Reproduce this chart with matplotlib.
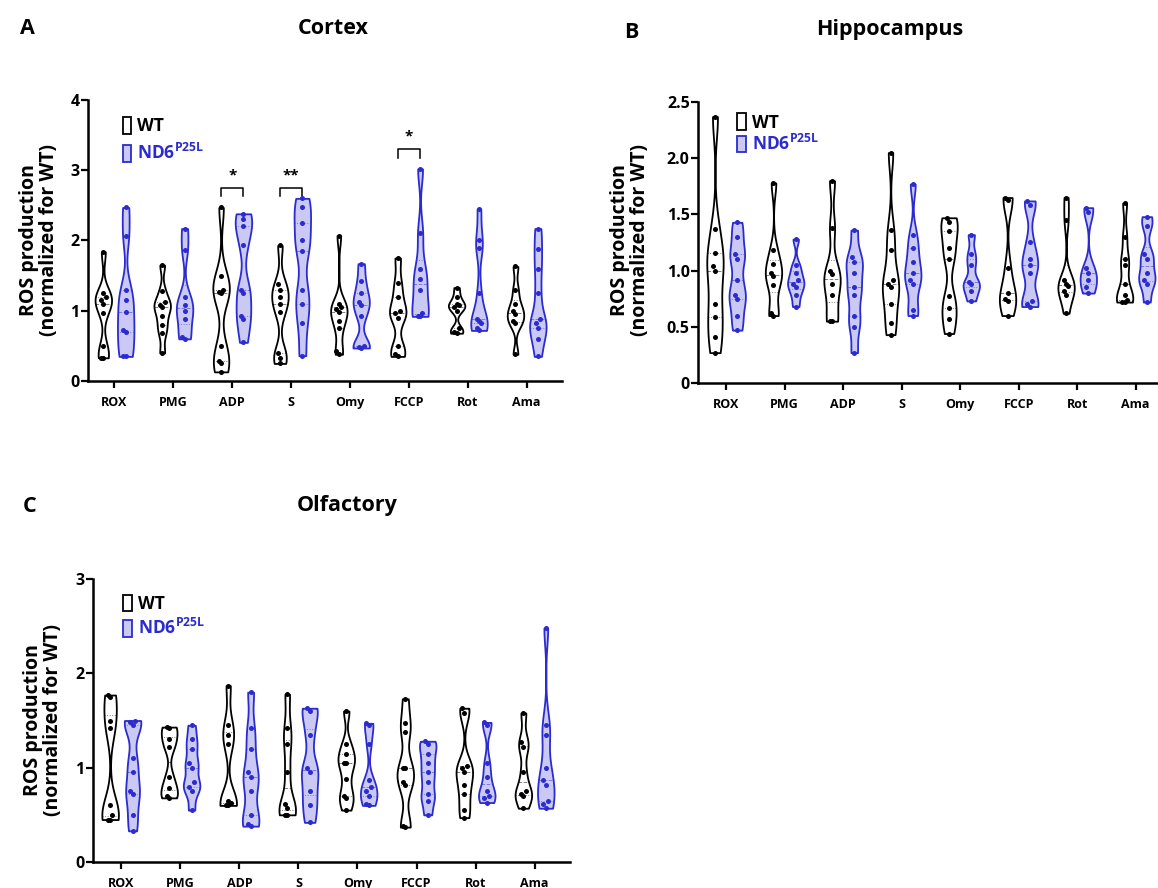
import numpy as np
import matplotlib
matplotlib.use("Agg")
import matplotlib.pyplot as plt
from matplotlib.patches import Patch

plt.rcParams['font.family'] = ['Open Sans', 'DejaVu Sans']
plt.rcParams['mathtext.fontset'] = 'custom'
plt.rcParams['mathtext.bf'] = 'Open Sans:bold'
plt.rcParams['mathtext.rm'] = 'Open Sans'

# ---------- data ----------
categories = ["ROX", "PMG", "ADP", "S", "Omy", "FCCP", "Rot", "Ama"]

cortex_wt = [
    [1.84, 1.25, 1.2, 1.15, 1.1, 0.97, 0.5, 0.33, 0.33],
    [1.65, 1.28, 1.12, 1.08, 1.05, 0.93, 0.8, 0.68, 0.4],
    [2.47, 1.5, 1.3, 1.27, 1.25, 0.5, 0.28, 0.25, 0.13],
    [1.93, 1.38, 1.3, 1.2, 1.1, 0.98, 0.4, 0.33, 0.25],
    [2.07, 1.1, 1.05, 1.02, 0.98, 0.85, 0.75, 0.42, 0.38],
    [1.75, 1.4, 1.2, 1.0, 0.97, 0.9, 0.5, 0.38, 0.35],
    [1.33, 1.2, 1.1, 1.08, 1.05, 1.0, 0.75, 0.7, 0.68],
    [1.63, 1.3, 1.1, 1.0, 0.95, 0.85, 0.82, 0.38],
]
cortex_nd6 = [
    [2.47, 2.07, 1.3, 1.15, 0.98, 0.72, 0.7, 0.36, 0.35],
    [2.17, 1.87, 1.2, 1.08, 1.0, 0.88, 0.62, 0.6],
    [2.38, 2.3, 2.2, 1.93, 1.3, 1.25, 0.93, 0.88, 0.55],
    [2.6, 2.47, 2.25, 2.0, 1.85, 1.3, 1.1, 0.83, 0.36],
    [1.67, 1.42, 1.25, 1.12, 1.08, 0.92, 0.5, 0.48, 0.47],
    [3.02, 2.1, 1.6, 1.45, 1.3, 0.97, 0.93, 0.92],
    [2.45, 2.0, 1.9, 1.25, 0.88, 0.85, 0.82, 0.75, 0.72],
    [2.17, 1.88, 1.6, 1.25, 0.88, 0.82, 0.75, 0.6, 0.35],
]

hippo_wt = [
    [2.37, 1.37, 1.16, 1.04, 1.0, 0.7, 0.59, 0.41, 0.27],
    [1.78, 1.18, 1.06, 0.98, 0.95, 0.87, 0.62, 0.6],
    [1.8, 1.38, 1.0, 0.97, 0.88, 0.78, 0.55, 0.55],
    [2.05, 1.36, 1.18, 0.92, 0.88, 0.85, 0.7, 0.53, 0.43],
    [1.47, 1.43, 1.35, 1.2, 1.1, 0.77, 0.67, 0.57, 0.44],
    [1.65, 1.63, 1.02, 0.8, 0.75, 0.73, 0.6],
    [1.65, 1.45, 0.92, 0.88, 0.86, 0.82, 0.78, 0.62],
    [1.6, 1.3, 1.1, 1.05, 0.88, 0.78, 0.74, 0.72, 0.72],
]
hippo_nd6 = [
    [1.43, 1.3, 1.15, 1.1, 0.92, 0.78, 0.75, 0.6, 0.47],
    [1.28, 1.05, 0.98, 0.92, 0.88, 0.85, 0.78, 0.68],
    [1.36, 1.12, 1.08, 0.98, 0.85, 0.78, 0.6, 0.5, 0.27],
    [1.77, 1.32, 1.2, 1.08, 0.98, 0.92, 0.88, 0.65, 0.6],
    [1.32, 1.15, 1.05, 0.9, 0.88, 0.82, 0.73],
    [1.62, 1.58, 1.25, 1.1, 1.05, 0.98, 0.73, 0.7, 0.68],
    [1.56, 1.52, 1.02, 0.98, 0.92, 0.85, 0.8],
    [1.48, 1.4, 1.15, 1.1, 0.98, 0.92, 0.88, 0.72],
]

olf_wt = [
    [1.77, 1.75, 1.5, 1.42, 0.6, 0.5, 0.45, 0.45],
    [1.43, 1.42, 1.3, 1.22, 0.9, 0.78, 0.7, 0.68],
    [1.87, 1.45, 1.35, 1.25, 0.65, 0.63, 0.6, 0.6],
    [1.78, 1.42, 1.25, 0.95, 0.62, 0.57, 0.5, 0.5],
    [1.6, 1.25, 1.15, 1.05, 1.05, 0.88, 0.7, 0.68, 0.55],
    [1.73, 1.47, 1.38, 1.0, 1.0, 0.85, 0.82, 0.38, 0.37],
    [1.63, 1.58, 1.02, 1.0, 0.95, 0.82, 0.72, 0.55, 0.47],
    [1.58, 1.27, 1.22, 0.95, 0.75, 0.72, 0.7, 0.57],
]
olf_nd6 = [
    [1.5, 1.48, 1.45, 1.1, 0.95, 0.75, 0.72, 0.5, 0.33],
    [1.45, 1.3, 1.2, 1.05, 1.0, 0.85, 0.8, 0.75, 0.55],
    [1.8, 1.42, 1.2, 0.95, 0.9, 0.75, 0.5, 0.4, 0.38],
    [1.63, 1.6, 1.35, 1.0, 0.95, 0.75, 0.6, 0.42],
    [1.47, 1.45, 1.25, 0.87, 0.8, 0.75, 0.7, 0.62, 0.6],
    [1.28, 1.25, 1.15, 1.05, 0.95, 0.85, 0.72, 0.65, 0.5],
    [1.48, 1.45, 1.05, 0.9, 0.75, 0.7, 0.68, 0.63],
    [2.48, 1.45, 1.35, 1.0, 0.87, 0.82, 0.65, 0.62, 0.57],
]

# significance marks for the cortex panel: (category, bracket height, label)
cortex_sig = [("ADP", 2.75, "*"), ("S", 2.75, "**"), ("FCCP", 3.3, "*")]

# ---------- style ----------
WT_EDGE = "black"
WT_FILL = "white"
ND_EDGE = "#2b2bd0"
ND_FILL = "#c9c9f4"
OFF = 0.19
VW = 0.28


def dot_offsets(vals, tol):
    vals = np.asarray(vals)
    order = np.argsort(vals)
    offs = np.zeros(len(vals))
    prev, k = None, 0
    for idx in order:
        if prev is not None and vals[idx] - prev < tol:
            k += 1
        else:
            k = 0
        offs[idx] = [0.0, -0.04, 0.04][k % 3]
        prev = vals[idx]
    return offs


def draw_violins(ax, groups, pos, edge, fill, dot, tol):
    parts = ax.violinplot(groups, positions=pos, widths=VW,
                          showextrema=False, bw_method=0.3)
    for body, vals, p in zip(parts['bodies'], groups, pos):
        body.set_facecolor(fill)
        body.set_edgecolor(edge)
        body.set_linewidth(1.3)
        body.set_alpha(1)
        body.set_zorder(2)
        verts = body.get_paths()[0].vertices
        right = verts[verts[:, 0] >= p]
        srt = np.argsort(right[:, 1])
        ys, xs = right[srt, 1], right[srt, 0] - p
        for q, ls in [(25, ':'), (50, '--'), (75, ':')]:
            yq = np.percentile(vals, q)
            hw = np.interp(yq, ys, xs)
            ax.plot([p - hw, p + hw], [yq, yq], ls=ls, color=edge,
                    lw=0.7, alpha=0.5, zorder=3)
        ax.scatter(p + dot_offsets(vals, tol), vals, s=13, color=dot,
                   zorder=4, linewidths=0)


def panel(fig, rect, wt, nd, ylim, yticks, yticklabels, xlim,
          leg_anchor, leg_space):
    ax = fig.add_axes(rect)
    x = np.arange(len(categories))
    tol = (ylim[1] - ylim[0]) * 0.02
    draw_violins(ax, wt, x - OFF, WT_EDGE, WT_FILL, "black", tol)
    draw_violins(ax, nd, x + OFF, ND_EDGE, ND_FILL, ND_EDGE, tol)
    ax.set_xlim(*xlim)
    ax.set_ylim(*ylim)
    ax.set_yticks(yticks)
    ax.set_yticklabels(yticklabels)
    ax.set_xticks(x)
    ax.set_xticklabels(categories)
    for s in ['top', 'right']:
        ax.spines[s].set_visible(False)
    for s in ['left', 'bottom']:
        ax.spines[s].set_linewidth(1.8)
    ax.tick_params(axis='y', width=1.6, length=5, labelsize=11.5, pad=1)
    ax.tick_params(axis='x', width=1.6, length=5, labelsize=9, pad=6)
    for t in ax.get_xticklabels() + ax.get_yticklabels():
        t.set_fontweight('bold')
    handles = [Patch(facecolor='white', edgecolor=WT_EDGE, lw=1.3),
               Patch(facecolor=ND_FILL, edgecolor=ND_EDGE, lw=1.3)]
    leg = ax.legend(handles, ["WT", "ND6$^{\\mathbf{P25L}}$"],
                    loc='upper left', bbox_to_anchor=leg_anchor,
                    frameon=False, handlelength=0.5, handleheight=1.1,
                    handletextpad=0.35, labelspacing=leg_space,
                    prop={'weight': 'bold', 'size': 12.5})
    for t, c in zip(leg.get_texts(), ["black", ND_EDGE]):
        t.set_color(c)
    return ax


fig = plt.figure(figsize=(11.58, 8.88), dpi=100)

W, H = 1158.0, 888.0


def rect(l, r, top, bot):
    return [l / W, 1 - bot / H, (r - l) / W, (bot - top) / H]


axA = panel(fig, rect(88, 562, 100, 381), cortex_wt, cortex_nd6, (0, 4),
            [0, 1, 2, 3, 4], ["0", "1", "2", "3", "4"], (-0.45, 7.6),
            (0.04, 0.995), 0.45)
axB = panel(fig, rect(698, 1172, 102, 383), hippo_wt, hippo_nd6, (0, 2.5),
            [0, 0.5, 1.0, 1.5, 2.0, 2.5],
            ["0", "0.5", "1.0", "1.5", "2.0", "2.5"], (-0.48, 7.62),
            (0.05, 1.015), 0.12)
axC = panel(fig, rect(93, 570, 579, 862), olf_wt, olf_nd6, (0, 3),
            [0, 1, 2, 3], ["0", "1", "2", "3"], (-0.48, 7.6),
            (0.03, 1.0), 0.3)

# significance brackets
for cat, yb, lab in cortex_sig:
    i = categories.index(cat)
    x1, x2 = i - OFF, i + OFF
    axA.plot([x1, x1, x2, x2], [yb - 0.12, yb, yb, yb - 0.12],
             color='black', lw=1.1)
    axA.text(i, yb + 0.08, lab, ha='center', va='bottom', fontsize=11,
             fontweight='bold')

# titles and panel letters
fig.text(333 / W, 1 - 28 / H, "Cortex", ha='center', va='center',
         fontsize=15.5, fontweight='bold')
fig.text(890 / W, 1 - 30 / H, "Hippocampus", ha='center', va='center',
         fontsize=15.5, fontweight='bold')
fig.text(347 / W, 1 - 505 / H, "Olfactory", ha='center', va='center',
         fontsize=15.5, fontweight='bold')
fig.text(27 / W, 1 - 28 / H, "A", ha='center', va='center', fontsize=15.5,
         fontweight='bold')
fig.text(631 / W, 1 - 32 / H, "B", ha='center', va='center', fontsize=15.5,
         fontweight='bold')
fig.text(30 / W, 1 - 507 / H, "C", ha='center', va='center', fontsize=15.5,
         fontweight='bold')

ylab = "ROS production\n(normalized for WT)"
for xc, yc in [(39, 240), (630, 240), (43, 720)]:
    fig.text(xc / W, 1 - yc / H, ylab, rotation=90, ha='center',
             va='center', multialignment='center', fontsize=14,
             fontweight='bold', linespacing=1.0)

fig.savefig("out.png", dpi=100)
